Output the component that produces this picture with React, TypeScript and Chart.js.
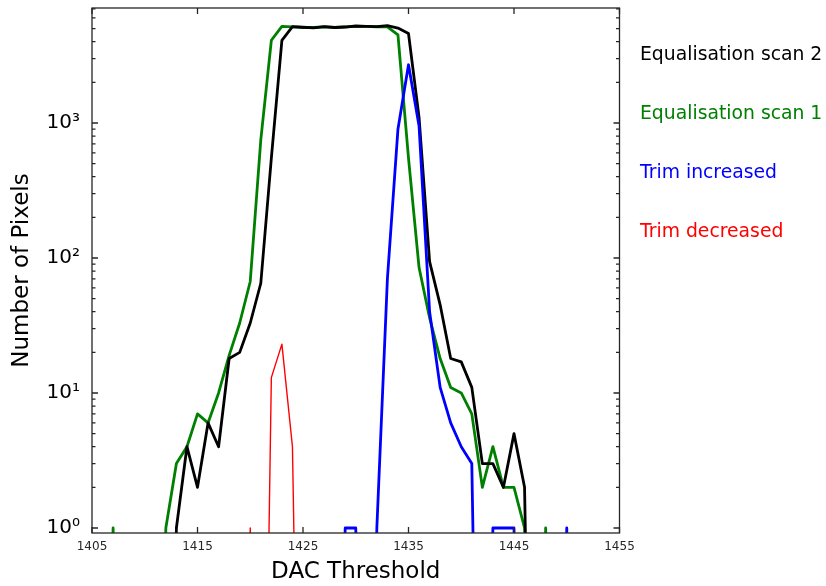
import React, { useEffect, useRef } from "react";
import { Chart, registerables } from "chart.js";

Chart.register(...registerables);

// DAC threshold values (x categories)
const dacThresholds = [
  1405, 1406, 1407, 1408, 1409, 1410, 1411, 1412, 1413, 1414,
  1415, 1416, 1417, 1418, 1419, 1420, 1421, 1422, 1423, 1424,
  1425, 1426, 1427, 1428, 1429, 1430, 1431, 1432, 1433, 1434,
  1435, 1436, 1437, 1438, 1439, 1440, 1441, 1442, 1443, 1444,
  1445, 1446, 1447, 1448, 1449, 1450, 1451, 1452, 1453, 1454, 1455,
];

// Number of pixels per threshold
const equalisationScan2 = [
  0, 0, 0, 0, 0, 0, 0, 0, 1, 4,
  2, 6, 4, 18, 20, 33, 65, 550, 4100, 5170,
  5120, 5060, 5170, 5100, 5140, 5230, 5200, 5170, 5260, 5050,
  4600, 1100, 94, 45, 18, 17, 11, 3, 3, 2,
  5, 2, 0, 0, 0, 0, 0, 0, 0, 0, 0,
];

const equalisationScan1 = [
  0, 0, 1, 0, 0, 0, 0, 1, 3, 4,
  7, 6, 10, 19, 33, 67, 750, 4100, 5200, 5150,
  5100, 5100, 5150, 5100, 5150, 5200, 5200, 5150, 5150, 4500,
  550, 85, 36, 18, 11, 10, 7, 2, 4, 2,
  2, 1, 0, 1, 0, 0, 0, 0, 0, 0, 0,
];

const trimIncreased = [
  0, 0, 0, 0, 0, 0, 0, 0, 0, 0,
  0, 0, 0, 0, 0, 0, 0, 0, 0, 0,
  0, 0, 0, 0, 1, 1, 0, 1, 70, 900,
  2700, 950, 40, 11, 6, 4, 3, 0, 1, 1,
  1, 0, 0, 0, 0, 1, 0, 0, 0, 0, 0,
];

const trimDecreased = [
  0, 0, 0, 0, 0, 0, 0, 0, 0, 0,
  0, 0, 0, 0, 0, 1, 0, 13, 23, 4,
  0, 0, 0, 0, 0, 0, 0, 0, 0, 0,
  0, 0, 0, 0, 0, 0, 0, 0, 0, 0,
  0, 0, 0, 0, 0, 0, 0, 0, 0, 0, 0,
];

const seriesLabels = [
  "Equalisation scan 2",
  "Equalisation scan 1",
  "Trim increased",
  "Trim decreased",
];

const xTickValues = [1405, 1415, 1425, 1435, 1445, 1455];
const yTickValues = [1, 10, 100, 1000];
const yTickLabels = ["10⁰", "10¹", "10²", "10³"];

const FONT = "DejaVu Sans";
const ZERO_CLIP = 1e-4; // zero counts are clipped far below the log axis, as matplotlib does

function toPoints(values: number[]) {
  return dacThresholds.map((x, i) => ({
    x,
    y: values[i] > 0 ? values[i] : ZERO_CLIP,
  }));
}

const framePlugin = {
  id: "frameTicksLegend",
  afterDatasetsDraw(chart: any) {
    const { ctx, chartArea, scales } = chart;
    const { left, right, top, bottom } = chartArea;
    const xs = scales.x;
    const ys = scales.y;
    ctx.save();
    ctx.strokeStyle = "#262626";
    ctx.lineWidth = 1.3;
    ctx.beginPath();
    const major = 6;
    const minor = 3.5;
    for (const v of xTickValues) {
      const px = xs.getPixelForValue(v);
      ctx.moveTo(px, bottom);
      ctx.lineTo(px, bottom - major);
      ctx.moveTo(px, top);
      ctx.lineTo(px, top + major);
    }
    for (const v of yTickValues) {
      const py = ys.getPixelForValue(v);
      ctx.moveTo(left, py);
      ctx.lineTo(left + major, py);
      ctx.moveTo(right, py);
      ctx.lineTo(right - major, py);
    }
    for (const d of yTickValues) {
      for (let m = 2; m <= 9; m++) {
        const v = d * m;
        if (v > ys.max || v < ys.min) continue;
        const py = ys.getPixelForValue(v);
        ctx.moveTo(left, py);
        ctx.lineTo(left + minor, py);
        ctx.moveTo(right, py);
        ctx.lineTo(right - minor, py);
      }
    }
    ctx.stroke();
    ctx.strokeRect(left, top, right - left, bottom - top);

    // legend as coloured text
    ctx.font = `18.8px "${FONT}"`;
    ctx.textAlign = "left";
    ctx.textBaseline = "middle";
    chart.data.datasets.forEach((ds: any, i: number) => {
      ctx.fillStyle = ds.borderColor;
      ctx.fillText(ds.label, right + 20.5, top + 47 + i * 59);
    });
    ctx.restore();
  },
};

export default function App() {
  const canvasRef = useRef<HTMLCanvasElement | null>(null);

  useEffect(() => {
    document.body.style.margin = "0";
    const canvas = canvasRef.current;
    if (!canvas) return;
    const chart = new Chart(canvas, {
      type: "line",
      data: {
        datasets: [
          {
            label: seriesLabels[0],
            data: toPoints(equalisationScan2),
            borderColor: "#000000",
            borderWidth: 2.8,
            order: 2,
          },
          {
            label: seriesLabels[1],
            data: toPoints(equalisationScan1),
            borderColor: "#008000",
            borderWidth: 2.8,
            order: 3,
          },
          {
            label: seriesLabels[2],
            data: toPoints(trimIncreased),
            borderColor: "#0000ff",
            borderWidth: 2.8,
            order: 1,
          },
          {
            label: seriesLabels[3],
            data: toPoints(trimDecreased),
            borderColor: "#ff0000",
            borderWidth: 1.4,
            order: 0,
          },
        ].map((d) => ({
          ...d,
          pointRadius: 0,
          pointHoverRadius: 0,
          tension: 0,
          fill: false,
          borderJoinStyle: "round" as const,
          borderCapStyle: "square" as const,
          clip: 0,
        })),
      },
      options: {
        animation: false,
        responsive: false,
        devicePixelRatio: 1,
        layout: { padding: { left: 0, top: 8, right: 206.5, bottom: 0 } },
        plugins: {
          legend: { display: false },
          tooltip: { enabled: false },
        },
        scales: {
          x: {
            type: "linear",
            min: 1405,
            max: 1455,
            grid: { display: false, drawTicks: false },
            border: { display: false },
            afterBuildTicks: (scale: any) => {
              scale.ticks = xTickValues.map((v) => ({ value: v }));
            },
            afterFit: (scale: any) => {
              scale.height = 53;
              scale.paddingLeft = 0;
              scale.paddingRight = 0;
            },
            ticks: {
              padding: 7,
              color: "#262626",
              font: { family: FONT, size: 12 },
              maxRotation: 0,
              autoSkip: false,
              callback: (v: any) => String(v),
            },
            title: {
              display: true,
              text: "DAC Threshold",
              color: "#000000",
              font: { family: FONT, size: 23 },
              padding: { top: 0, bottom: 0 },
            },
          },
          y: {
            type: "logarithmic",
            min: 0.918,
            max: 7110,
            grid: { display: false, drawTicks: false },
            border: { display: false },
            afterBuildTicks: (scale: any) => {
              scale.ticks = yTickValues.map((v) => ({ value: v }));
            },
            afterFit: (scale: any) => {
              scale.width = 92;
              scale.paddingTop = 0;
              scale.paddingBottom = 0;
            },
            ticks: {
              padding: 12,
              color: "#000000",
              font: { family: FONT, size: 20 },
              autoSkip: false,
              callback: (v: any) => {
                const i = yTickValues.indexOf(Number(v));
                return i >= 0 ? yTickLabels[i] : "";
              },
            },
            title: {
              display: true,
              text: "Number of Pixels",
              color: "#000000",
              font: { family: FONT, size: 23 },
              padding: { top: 8, bottom: 0 },
            },
          },
        },
      },
      plugins: [framePlugin],
    });
    return () => chart.destroy();
  }, []);

  return (
    <div style={{ width: 826, height: 586 }}>
      <canvas ref={canvasRef} width={826} height={586} />
    </div>
  );
}
